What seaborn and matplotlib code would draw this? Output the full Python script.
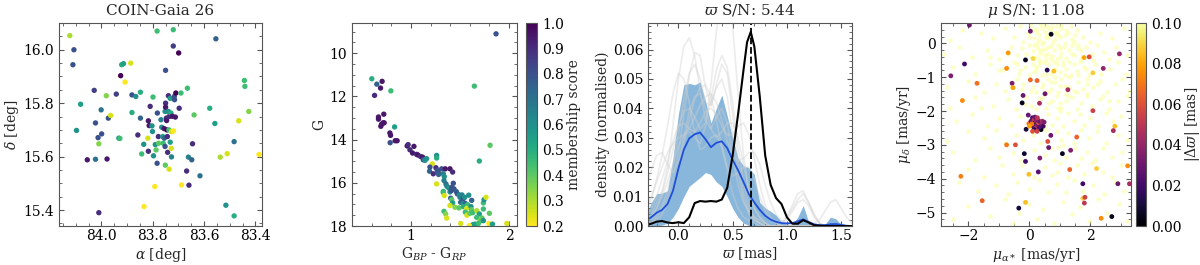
import numpy as np
import pandas as pd
import matplotlib.pyplot as plt
from matplotlib.colors import Normalize
from matplotlib.cm import ScalarMappable
from matplotlib.ticker import MultipleLocator, FormatStrFormatter
import seaborn as sns

# ---------------------------------------------------------------- data ---- #
# panel 1: sky positions of the members
ra = [84.123, 84.107, 84.111, 84.081, 84.097, 84.055, 84.023, 84.010, 84.028, 84.023,
      84.001, 84.013, 83.999, 84.010, 83.978, 83.973, 83.981, 83.964, 83.942, 83.925,
      83.921, 83.914, 83.908, 83.886, 83.881, 83.881, 83.866, 83.848, 83.848, 83.932,
      83.928, 83.858, 83.843, 83.835, 83.834, 83.819, 83.817, 83.817, 83.814, 83.810,
      83.803, 83.799, 83.801, 83.797, 83.792, 83.790, 83.787, 83.783, 83.783, 83.782,
      83.778, 83.777, 83.768, 83.765, 83.761, 83.759, 83.756, 83.752, 83.755, 83.752,
      83.751, 83.750, 83.750, 83.750, 83.747, 83.746, 83.745, 83.743, 83.742, 83.739,
      83.739, 83.737, 83.736, 83.736, 83.732, 83.732, 83.729, 83.728, 83.727, 83.727,
      83.724, 83.720, 83.720, 83.719, 83.716, 83.715, 83.712, 83.710, 83.699, 83.697,
      83.690, 83.688, 83.668, 83.665, 83.661, 83.659, 83.648, 83.645, 83.639, 83.616,
      83.578, 83.558, 83.554, 83.537, 83.510, 83.515, 83.483, 83.483, 83.465, 83.443,
      83.441, 83.426, 83.386]
dec = [16.053, 16.000, 15.944, 15.796, 15.698, 15.588, 15.590, 15.390, 15.848, 15.726,
       15.775, 15.671, 15.685, 15.648, 15.591, 15.744, 15.828, 15.754, 15.834, 15.903,
       15.944, 15.948, 15.879, 15.950, 15.831, 15.765, 15.825, 15.841, 15.744, 15.669,
       15.668, 15.681, 15.610, 15.646, 15.413, 15.669, 15.734, 15.620, 15.716, 15.788,
       15.715, 15.823, 15.694, 15.603, 15.488, 15.645, 15.625, 16.070, 15.575, 15.763,
       15.675, 15.650, 15.738, 15.710, 15.675, 15.650, 15.705, 15.769, 15.669, 15.638,
       15.568, 15.923, 15.800, 15.785, 15.744, 15.735, 15.700, 15.675, 15.616, 15.828,
       15.769, 15.700, 15.750, 15.553, 15.818, 15.654, 15.763, 15.631, 15.599, 15.694,
       15.751, 16.075, 16.014, 15.696, 15.825, 15.813, 15.748, 15.838, 15.988, 15.781,
       15.838, 15.494, 15.546, 15.856, 15.598, 15.493, 15.588, 15.648, 15.756, 15.528,
       15.781, 15.724, 16.041, 15.598, 15.611, 15.418, 15.656, 15.378, 15.734, 15.885,
       15.863, 15.769, 15.608]
mem_sky = [0.30, 0.80, 0.80, 0.55, 0.60, 0.95, 0.70, 0.90, 0.85, 0.80,
           0.70, 0.80, 0.80, 0.35, 0.95, 0.80, 0.35, 0.25, 0.85, 1.00,
           0.50, 0.55, 0.20, 0.25, 0.80, 0.50, 0.60, 0.50, 0.75, 0.60,
           0.45, 0.90, 0.45, 0.60, 0.20, 0.25, 0.95, 0.90, 0.95, 0.90,
           0.60, 0.45, 0.60, 0.60, 0.20, 0.60, 0.40, 0.45, 0.80, 0.80,
           0.90, 0.40, 0.65, 0.60, 0.55, 0.45, 0.95, 0.60, 0.75, 0.80,
           0.40, 0.80, 0.90, 0.95, 0.90, 0.95, 1.00, 0.90, 0.90, 0.90,
           0.60, 0.45, 0.90, 0.25, 0.55, 0.55, 0.50, 0.25, 0.65, 0.25,
           0.95, 0.45, 0.85, 0.20, 0.80, 0.80, 0.95, 1.00, 1.00, 0.90,
           0.45, 0.20, 0.90, 0.45, 0.65, 0.90, 0.75, 0.90, 0.40, 0.70,
           0.50, 0.55, 0.75, 0.30, 0.25, 0.60, 0.70, 0.50, 0.25, 0.45,
           0.45, 0.35, 0.20]

# panel 2: colour-magnitude diagram
bp_rp = [0.602, 0.653, 0.707, 0.691, 0.630, 0.796, 0.724, 0.670, 0.670, 0.701,
         0.717, 0.728, 0.694, 0.834, 0.786, 0.793, 0.789, 0.840, 0.860, 0.962,
         0.972, 1.031, 0.990, 1.017, 1.058, 1.071, 1.099, 1.119, 1.126, 1.143,
         1.160, 1.218, 1.262, 1.262, 1.255, 1.194, 1.190, 1.228, 1.269, 1.279,
         1.282, 1.313, 1.330, 1.340, 1.262, 1.350, 1.398, 1.425, 1.337, 1.357,
         1.367, 1.384, 1.418, 1.432, 1.330, 1.330, 1.340, 1.398, 1.411, 1.439,
         1.462, 1.473, 1.493, 1.500, 1.520, 1.534, 1.548, 1.405, 1.415, 1.425,
         1.398, 1.449, 1.507, 1.534, 1.554, 1.578, 1.589, 1.619, 1.490, 1.534,
         1.568, 1.612, 1.616, 1.337, 1.354, 1.364, 1.554, 1.571, 1.602, 1.630,
         1.670, 1.697, 1.738, 1.738, 1.745, 1.765, 1.670, 1.704, 1.724, 1.721,
         1.738, 1.799, 1.793, 1.830, 1.507, 1.630, 1.653, 1.687, 1.595, 1.977,
         1.867, 1.646, 1.806, 1.697]
gmag = [11.18, 11.43, 11.30, 11.61, 11.95, 11.74, 12.82, 12.95, 13.05, 13.29,
        13.22, 13.22, 13.38, 13.41, 13.69, 13.80, 14.14, 14.05, 14.05, 14.29,
        14.23, 14.31, 14.47, 14.62, 14.68, 14.71, 14.78, 14.81, 14.93, 14.96,
        14.88, 15.12, 14.73, 14.85, 15.30, 15.27, 15.46, 15.58, 15.43, 15.52,
        15.61, 15.35, 15.58, 15.71, 16.05, 15.35, 15.35, 15.50, 15.89, 16.05,
        16.16, 16.23, 16.20, 16.02, 16.40, 16.45, 16.59, 16.42, 16.36, 16.28,
        16.40, 16.51, 16.56, 16.67, 16.56, 16.73, 16.67, 16.71, 16.78, 16.93,
        17.05, 17.13, 16.90, 16.98, 16.95, 17.01, 16.57, 16.81, 17.16, 17.10,
        17.18, 17.10, 17.24, 17.32, 17.44, 17.63, 17.36, 17.50, 17.41, 17.38,
        17.29, 17.44, 17.21, 16.93, 16.78, 16.67, 17.60, 17.75, 17.63, 17.75,
        17.75, 17.41, 17.88, 17.91, 17.88, 17.94, 17.91, 17.88, 17.98, 17.88,
        9.10, 11.52, 14.26, 14.99]
mem_cmd = [0.50, 0.75, 0.95, 0.95, 0.90, 0.45, 0.95, 0.95, 0.95, 0.95,
           0.95, 0.95, 0.95, 0.55, 0.95, 0.95, 0.80, 0.95, 0.95, 0.95,
           0.90, 0.95, 0.90, 0.95, 0.90, 0.95, 0.90, 0.95, 0.80, 0.60,
           0.60, 0.25, 0.60, 0.50, 0.90, 0.80, 0.75, 0.90, 0.80, 0.80,
           0.75, 0.80, 0.65, 0.60, 0.25, 0.95, 0.95, 0.90, 0.65, 0.70,
           0.65, 0.60, 0.80, 0.80, 0.50, 0.45, 0.25, 0.60, 0.80, 0.80,
           0.75, 0.80, 0.60, 0.65, 0.65, 0.80, 0.60, 0.75, 0.40, 0.55,
           0.25, 0.35, 0.75, 0.55, 0.75, 0.45, 0.60, 0.75, 0.40, 0.50,
           0.25, 0.60, 0.40, 0.45, 0.35, 0.25, 0.45, 0.25, 0.40, 0.45,
           0.30, 0.55, 0.45, 0.45, 0.60, 0.25, 0.45, 0.35, 0.40, 0.40,
           0.60, 0.40, 0.20, 0.55, 0.25, 0.55, 0.55, 0.45, 0.20, 0.25,
           0.80, 0.45, 0.40, 0.50]

# panel 3: parallax densities
plx_grid = [-0.30, -0.25, -0.20, -0.15, -0.10, -0.05, 0.00, 0.05, 0.10, 0.15,
            0.20, 0.25, 0.30, 0.35, 0.40, 0.45, 0.50, 0.55, 0.60, 0.65,
            0.70, 0.75, 0.80, 0.85, 0.90, 0.95, 1.00, 1.05, 1.10, 1.15,
            1.20, 1.25, 1.30, 1.35, 1.40, 1.45, 1.50, 1.55, 1.60]
boot_curves = [
    [0.002, 0.004, 0.008, 0.012, 0.020, 0.034, 0.050, 0.061, 0.064, 0.058, 0.046, 0.036, 0.033,
     0.037, 0.040, 0.035, 0.024, 0.014, 0.008, 0.005, 0.003, 0.002, 0.001, 0, 0, 0, 0, 0, 0, 0,
     0, 0, 0, 0, 0, 0, 0, 0, 0],
    [0.000, 0.001, 0.003, 0.006, 0.010, 0.016, 0.025, 0.038, 0.051, 0.059, 0.058, 0.047, 0.041,
     0.048, 0.055, 0.052, 0.038, 0.022, 0.011, 0.005, 0.002, 0.001, 0, 0, 0, 0.001, 0.003, 0.006,
     0.009, 0.011, 0.008, 0.004, 0.001, 0, 0, 0, 0, 0, 0],
    [0.001, 0.003, 0.006, 0.010, 0.015, 0.021, 0.027, 0.031, 0.032, 0.030, 0.028, 0.034, 0.048,
     0.066, 0.080, 0.082, 0.068, 0.045, 0.024, 0.012, 0.006, 0.003, 0.001, 0, 0, 0, 0, 0, 0, 0,
     0, 0, 0, 0, 0, 0, 0, 0, 0],
    [0.004, 0.009, 0.016, 0.024, 0.034, 0.045, 0.052, 0.050, 0.042, 0.032, 0.026, 0.027, 0.030,
     0.031, 0.027, 0.019, 0.011, 0.006, 0.003, 0.002, 0.001, 0, 0, 0, 0, 0.001, 0.003, 0.007,
     0.011, 0.012, 0.008, 0.004, 0.001, 0, 0, 0, 0, 0, 0],
    [0.012, 0.019, 0.024, 0.025, 0.021, 0.018, 0.022, 0.030, 0.039, 0.044, 0.045, 0.040, 0.033,
     0.030, 0.032, 0.035, 0.035, 0.030, 0.021, 0.012, 0.006, 0.003, 0.001, 0, 0, 0, 0, 0, 0, 0,
     0, 0, 0, 0, 0, 0, 0, 0, 0],
    [0.001, 0.002, 0.004, 0.007, 0.012, 0.020, 0.031, 0.043, 0.052, 0.055, 0.050, 0.042, 0.041,
     0.047, 0.050, 0.044, 0.031, 0.018, 0.009, 0.004, 0.002, 0.001, 0, 0, 0, 0, 0, 0, 0, 0,
     0, 0.001, 0.002, 0.005, 0.008, 0.009, 0.006, 0.003, 0.001],
    [0.003, 0.006, 0.010, 0.016, 0.022, 0.029, 0.034, 0.035, 0.033, 0.032, 0.035, 0.039, 0.040,
     0.038, 0.034, 0.031, 0.031, 0.034, 0.035, 0.031, 0.023, 0.014, 0.007, 0.003, 0.001, 0, 0, 0,
     0, 0, 0, 0, 0, 0, 0, 0, 0, 0, 0],
    [0.000, 0.001, 0.002, 0.004, 0.008, 0.013, 0.020, 0.028, 0.036, 0.043, 0.047, 0.048, 0.044,
     0.036, 0.027, 0.020, 0.017, 0.018, 0.020, 0.020, 0.016, 0.010, 0.005, 0.002, 0.001, 0.001,
     0.002, 0.005, 0.008, 0.009, 0.007, 0.003, 0.001, 0, 0, 0, 0, 0, 0],
    [0.001, 0.003, 0.006, 0.011, 0.018, 0.026, 0.034, 0.039, 0.040, 0.037, 0.033, 0.035, 0.043,
     0.053, 0.058, 0.054, 0.042, 0.027, 0.015, 0.007, 0.003, 0.001, 0, 0, 0, 0, 0, 0, 0, 0,
     0, 0, 0, 0, 0, 0, 0, 0, 0],
    [0.006, 0.010, 0.015, 0.020, 0.025, 0.028, 0.030, 0.031, 0.033, 0.037, 0.041, 0.044, 0.045,
     0.042, 0.036, 0.029, 0.024, 0.022, 0.023, 0.025, 0.025, 0.021, 0.014, 0.008, 0.004, 0.002,
     0.001, 0, 0, 0, 0, 0, 0, 0, 0, 0, 0, 0, 0],
]
boot_median = [0.0018, 0.0030, 0.0045, 0.0055, 0.0075, 0.0120, 0.0195, 0.0260, 0.0298, 0.0312,
               0.0318, 0.0295, 0.0268, 0.0283, 0.0288, 0.0265, 0.0225, 0.0190, 0.0150, 0.0108,
               0.0080, 0.0055, 0.0035, 0.0022, 0.0014, 0.0010, 0.0009, 0.0010, 0.0016, 0.0023,
               0.0014, 0.0006, 0.0003, 0.0003, 0.0006, 0.0007, 0.0004, 0.0001, 0.0]
boot_upper = [0.0035, 0.0080, 0.0110, 0.0112, 0.0120, 0.0230, 0.0380, 0.0480, 0.0485, 0.0480,
              0.0490, 0.0425, 0.0350, 0.0400, 0.0445, 0.0375, 0.0300, 0.0230, 0.0205, 0.0198,
              0.0175, 0.0080, 0.0062, 0.0050, 0.0037, 0.0015, 0.0005, 0.0005, 0.0030, 0.0070,
              0.0015, 0.0005, 0.0004, 0.0005, 0.0030, 0.0025, 0.0005, 0.0, 0.0]
boot_lower = [0.0, 0.0, 0.0, 0.0003, 0.0010, 0.0030, 0.0060, 0.0100, 0.0135, 0.0150,
              0.0165, 0.0182, 0.0175, 0.0150, 0.0135, 0.0100, 0.0060, 0.0030, 0.0010, 0.0002,
              0, 0, 0, 0, 0, 0, 0, 0, 0, 0, 0, 0, 0, 0, 0, 0, 0, 0, 0]
member_plx_x = [-0.30, -0.25, -0.20, -0.15, -0.10, -0.05, 0.00, 0.05, 0.10, 0.15, 0.20, 0.25,
                0.30, 0.35, 0.40, 0.45, 0.50, 0.55, 0.60, 0.633, 0.667, 0.70, 0.75, 0.80, 0.85,
                0.90, 0.95, 1.00, 1.05, 1.10, 1.15, 1.20, 1.25, 1.30, 1.40, 1.50, 1.60]
member_plx_y = [0.0003, 0.0008, 0.0015, 0.0017, 0.0012, 0.0010, 0.0013, 0.0010, 0.0030, 0.0078,
                0.0085, 0.0083, 0.0085, 0.0083, 0.0090, 0.0130, 0.0240, 0.0380, 0.0530, 0.0625,
                0.0660, 0.0610, 0.0440, 0.0240, 0.0140, 0.0095, 0.0075, 0.0030, 0.0008, 0.0008,
                0.0020, 0.0012, 0.0003, 0.0001, 0.0, 0.0, 0.0]
plx_cluster = 0.667
plx_snr = 5.44

# panel 4: proper motions, members coloured by |d plx|, field stars behind
pmra_m = [-1.97, -2.13, -2.58, 0.03, 0.71, -0.13, 0.12, -0.70, -0.75, -1.72,
          -2.20, -0.57, -0.54, 0.58, 0.80, 0.03, 0.25, -0.21, -0.24, 0.51,
          0.33, 1.26, 1.79, 1.96, 2.42, 2.95, 2.08, 2.08, 2.80, 2.75,
          -0.04, -0.11, -0.02, 0.70, 0.60, 0.63, 0.34, -0.17, -0.13, 0.29,
          -0.02, -0.46, -0.75, 1.08, 1.35, 1.55, 1.32, 2.20, 3.22, 1.75,
          2.90, 3.28, 1.75, 1.82, 1.80, -2.25, -1.55, -0.35, -0.13, 2.35,
          2.70,
          0.05, 0.10, 0.15, 0.18, 0.22, 0.25, 0.30, 0.12, 0.20, 0.28,
          0.35, 0.40, 0.45, 0.38, 0.08, 0.15, 0.25, 0.32, 0.42, 0.00,
          0.18, 0.26, 0.48, 0.10]
pmdec_m = [0.54, -0.61, -0.96, 0.36, 0.27, -0.49, -0.45, -0.28, -0.74, -1.18,
           -1.69, -1.18, -1.31, -0.79, -0.82, -1.08, -1.10, -1.54, -1.76, -1.49,
           -1.77, -1.37, -0.42, -0.40, -0.74, -0.31, -0.87, -1.99, -2.45, -2.58,
           -2.12, -2.54, -2.37, -2.72, -2.90, -3.08, -3.39, -3.26, -3.49, -3.80,
           -3.87, -3.00, -3.00, -3.26, -3.16, -2.77, -3.73, -3.70, -3.62, -4.15,
           -4.15, -4.15, -4.58, -4.55, -4.72, -3.93, -4.65, -4.87, -4.70, -5.17,
           -5.12,
           -2.30, -2.20, -2.25, -2.35, -2.30, -2.40, -2.35, -2.45, -2.50, -2.28,
           -2.32, -2.38, -2.45, -2.55, -2.38, -2.55, -2.60, -2.48, -2.30, -2.45,
           -2.18, -2.20, -2.33, -2.60]
dplx_m = [0.030, 0.020, 0.035, 0.030, 0.005, 0.005, 0.090, 0.078, 0.075, 0.068,
          0.075, 0.035, 0.080, 0.015, 0.085, 0.066, 0.066, 0.030, 0.005, 0.030,
          0.045, 0.045, 0.080, 0.060, 0.040, 0.040, 0.088, 0.055, 0.085, 0.045,
          0.030, 0.010, 0.070, 0.030, 0.060, 0.030, 0.035, 0.008, 0.020, 0.025,
          0.085, 0.060, 0.070, 0.005, 0.035, 0.065, 0.065, 0.088, 0.075, 0.020,
          0.030, 0.045, 0.088, 0.055, 0.050, 0.072, 0.065, 0.010, 0.085, 0.075,
          0.005,
          0.030, 0.020, 0.050, 0.010, 0.040, 0.030, 0.060, 0.025, 0.045, 0.035,
          0.030, 0.040, 0.020, 0.005, 0.070, 0.015, 0.055, 0.025, 0.045, 0.080,
          0.030, 0.050, 0.035, 0.060]
pmra_field = [
    -2.6, -2.2, -1.6, -1.2, -0.8, -0.5, -0.3, -0.2, -0.05, 0.05, 0.15, 0.2, 0.3, 0.35, 0.45,
    0.5, 0.55, 0.62, 0.7, 0.78, 0.85, 0.9, 1.0, 1.05, 1.15, 1.25, 1.4, 1.55, 1.75, 2.0,
    2.3, 2.7, 3.1, 0.25, 0.4, 0.95, 0.1, 0.6,
    -2.8, -2.3, -1.9, -1.4, -1.0, -0.6, -0.4, -0.25, -0.1, 0.0, 0.1, 0.2, 0.25, 0.35, 0.42,
    0.5, 0.55, 0.62, 0.7, 0.75, 0.82, 0.9, 0.95, 1.05, 1.12, 1.2, 1.3, 1.38, 1.45, 1.6,
    1.7, 1.85, 2.05, 2.2, 2.45, 2.6, 2.85, 3.2, 0.3, 0.6, 1.0, 0.15,
    -2.5, -1.8, -1.3, -0.9, -0.5, -0.35, -0.15, 0.0, 0.1, 0.2, 0.3, 0.4, 0.48, 0.6, 0.7,
    0.9, 1.0, 1.1, 1.2, 1.35, 1.45, 1.55, 1.65, 1.8, 1.95, 2.15, 2.35, 2.65, 2.9, 3.15,
    0.85, 0.35,
    -2.7, -2.0, -1.5, -1.1, -0.8, -0.4, -0.25, 0.1, 0.2, 0.45, 0.6, 0.7, 0.85, 0.95, 1.05,
    1.15, 1.3, 1.45, 1.6, 1.75, 1.9, 2.1, 2.3, 2.55, 2.8, 3.05, 3.25, 0.5, 1.2,
    -2.6, -1.8, -1.2, -0.7, -0.45, -0.1, 0.05, 0.4, 0.55, 0.75, 0.9, 1.05, 1.2, 1.4, 1.55,
    1.7, 1.9, 2.05, 2.3, 2.6, 2.9, 3.2, 0.2, 1.0,
    -2.4, -1.9, -1.4, -1.0, -0.6, -0.3, 0.6, 0.75, 0.9, 1.1, 1.25, 1.45, 1.65, 1.8, 2.0,
    2.25, 2.5, 2.75, 3.0, 1.0, 0.5,
    -2.7, -2.0, -1.5, -1.1, -0.8, -0.45, -0.2, 0.1, 0.35, 0.9, 1.05, 1.25, 1.45, 1.7, 1.95,
    2.2, 2.5, 2.9, 3.2, 1.1, 0.55,
    -2.5, -1.8, -1.3, -1.0, -0.55, -0.3, 0.15, 0.5, 0.8, 0.95, 1.2, 1.5, 1.7, 1.9, 2.15,
    2.4, 2.7, 3.05, 0.7,
    -2.0, -1.5, -0.9, -0.55, -0.25, 0.15, 0.5, 0.75, 1.0, 1.25, 1.55, 1.8, 2.05, 2.4, 2.7,
    3.0, 0.9,
    -2.3, -1.7, -1.1, -0.7, -0.4, 0.0, 0.3, 0.6, 0.9, 1.2, 1.45, 1.75, 2.1, 2.45, 2.8, 3.1,
    -2.0, -1.3, -0.8, -0.55, -0.35, 0.0, 0.25, 0.45, 0.8, 1.1, 1.4, 1.65, 1.95, 2.25, 2.55,
    2.95, 3.2, -2.5,
    0.0, 0.3, 0.6, 0.9, 1.2, 1.5, -0.4, 0.2, 0.5, 0.8, 1.1, 1.4, 1.7, -0.2, 0.4,
    0.7, 1.0, 1.3, 1.6, 1.9,
    0.45, 0.75, 1.05, 1.35, 0.15, 0.55, 0.85, 1.15, -0.15, 0.35, 0.65, 0.95, 1.25, 1.55, 1.85,
    2.1, 2.4, -0.7, -1.0, 0.05,
    0.25, 0.55, 0.85, 1.15, 1.45, 0.05, 0.4, 0.7, 1.0, 1.3, -0.3, -0.6, 0.3, 0.65, 1.6,
    2.2, 1.9, 2.6, -1.3, -1.6]
pmdec_field = [
    0.1, 0.4, 0.3, 0.15, 0.45, 0.2, 0.5, 0.05, 0.3, 0.55, 0.15, 0.42, 0.25, 0.55, 0.05,
    0.35, 0.5, 0.15, 0.4, 0.05, 0.3, 0.52, 0.18, 0.45, 0.02, 0.3, 0.12, 0.38, 0.2, 0.05,
    0.3, 0.15, 0.45, 0.02, 0.45, 0.25, 0.38, 0.25,
    -0.3, -0.1, -0.4, -0.2, -0.45, -0.1, -0.35, -0.15, -0.3, -0.05, -0.22, -0.4, -0.1, -0.3,
    -0.02, -0.18, -0.45, -0.3, -0.08, -0.38, -0.2, -0.45, -0.05, -0.28, -0.12, -0.42, -0.2,
    -0.05, -0.35, -0.15, -0.45, -0.1, -0.3, -0.05, -0.25, -0.45, -0.1, -0.35, -0.48, -0.12,
    -0.4, -0.05,
    -0.7, -0.9, -0.6, -0.8, -0.55, -0.9, -0.7, -0.95, -0.6, -0.8, -0.65, -0.95, -0.55, -0.6,
    -0.92, -0.6, -0.85, -0.55, -0.75, -0.95, -0.6, -0.82, -0.55, -0.7, -0.95, -0.6, -0.9,
    -0.75, -0.55, -0.9, -0.98, -0.55,
    -1.3, -1.1, -1.45, -1.2, -1.4, -1.05, -1.35, -1.3, -1.45, -1.2, -1.05, -1.35, -1.15,
    -1.45, -1.05, -1.25, -1.0, -1.4, -1.15, -1.35, -1.05, -1.3, -1.1, -1.45, -1.2, -1.05,
    -1.4, -1.45, -1.5,
    -1.9, -1.6, -1.85, -1.65, -1.95, -1.6, -1.85, -1.6, -1.9, -1.7, -1.55, -1.9, -1.7,
    -1.6, -1.95, -1.75, -1.55, -1.85, -1.65, -1.95, -1.7, -1.55, -1.95, -1.75,
    -2.3, -2.1, -2.45, -2.2, -2.4, -2.15, -2.1, -2.4, -2.2, -2.45, -2.05, -2.3, -2.1, -2.4,
    -2.2, -2.45, -2.05, -2.3, -2.15, -2.0, -2.45,
    -2.9, -2.6, -2.8, -2.55, -2.95, -2.7, -2.85, -2.7, -2.95, -2.6, -2.85, -2.65, -2.95,
    -2.55, -2.8, -2.6, -2.95, -2.7, -2.85, -3.0, -2.55,
    -3.2, -3.45, -3.1, -3.35, -3.25, -3.45, -3.15, -3.3, -3.45, -3.05, -3.35, -3.1, -3.4,
    -3.2, -3.45, -3.1, -3.35, -3.2, -3.1,
    -3.7, -3.95, -3.6, -3.85, -3.6, -3.95, -3.65, -3.9, -3.55, -3.95, -3.6, -3.85, -3.55,
    -3.8, -3.95, -3.6, -3.8,
    -4.1, -4.35, -4.2, -4.45, -4.1, -4.3, -4.05, -4.4, -4.15, -4.4, -4.05, -4.35, -4.2,
    -4.45, -4.1, -4.35,
    -4.8, -5.1, -4.6, -5.3, -5.0, -4.75, -5.2, -4.9, -5.3, -4.7, -5.05, -4.85, -5.25, -4.6,
    -5.0, -4.75, -5.25, -5.2,
    0.2, 0.1, 0.45, 0.35, 0.4, 0.25, -0.6, -0.7, -0.35, -0.55, -0.65, -0.3, -0.2, -1.2, -1.3,
    -1.15, -1.25, -1.3, -0.95, -1.2,
    0.6, 0.5, 0.55, 0.5, -0.85, -0.9, -0.75, -0.95, -1.8, -1.65, -1.75, -1.9, -1.55, -1.45,
    -0.75, -0.5, -1.55, -0.3, -0.8, -1.4,
    0.35, 0.2, 0.12, 0.25, 0.05, -0.4, -0.2, -0.45, -0.15, -0.55, -0.8, -1.3, -0.2, -1.45,
    -0.05, -1.2, -1.5, -1.7, -0.4, -1.9]
pm_snr = 11.08

cluster_name = "COIN-Gaia 26"

# ---------------------------------------------------------------- style --- #
sns.set_style("ticks")
plt.rcParams['font.family'] = ['DejaVu Serif']
plt.rcParams['mathtext.fontset'] = 'dejavuserif'
plt.rcParams.update({
    'font.size': 10,
    'xtick.direction': 'in', 'ytick.direction': 'in',
    'xtick.top': True, 'ytick.right': True,
    'xtick.minor.visible': True, 'ytick.minor.visible': True,
    'xtick.major.size': 3.5, 'ytick.major.size': 3.5,
    'xtick.minor.size': 2, 'ytick.minor.size': 2,
    'xtick.major.pad': 2.0,
    'axes.edgecolor': '#555555', 'xtick.color': '#555555', 'ytick.color': '#555555',
    'xtick.labelcolor': 'black', 'ytick.labelcolor': 'black',
    'xtick.labelsize': 10, 'ytick.labelsize': 10,
    'axes.labelsize': 10, 'axes.titlesize': 11,
    'axes.labelpad': 2.0,
})

fig = plt.figure(figsize=(12, 2.65), dpi=100)
ax1 = fig.add_axes([0.0492, 0.147, 0.169, 0.766])
ax2 = fig.add_axes([0.2933, 0.147, 0.1375, 0.766])
cax2 = fig.add_axes([0.4383, 0.147, 0.0092, 0.766])
ax3 = fig.add_axes([0.540, 0.147, 0.170, 0.766])
ax4 = fig.add_axes([0.7842, 0.147, 0.1583, 0.766])
cax4 = fig.add_axes([0.9467, 0.147, 0.0083, 0.766])

mem_norm = Normalize(0.2, 1.0)
dplx_norm = Normalize(0.0, 0.1)

# 1. sky positions
df_sky = pd.DataFrame({'ra': ra, 'dec': dec, 'mem': mem_sky})
sns.scatterplot(data=df_sky, x='ra', y='dec', hue='mem', palette='viridis_r',
                hue_norm=mem_norm, s=15, linewidth=0, legend=False, ax=ax1)
ax1.set_xlim(84.165, 83.375)
ax1.set_ylim(15.34, 16.10)
ax1.xaxis.set_major_locator(MultipleLocator(0.2))
ax1.yaxis.set_major_locator(MultipleLocator(0.2))
ax1.xaxis.set_major_formatter(FormatStrFormatter('%.1f'))
ax1.yaxis.set_major_formatter(FormatStrFormatter('%.1f'))
ax1.set_xlabel(r'$\alpha$ [deg]')
ax1.set_ylabel(r'$\delta$ [deg]')
ax1.set_title(cluster_name)

# 2. CMD
df_cmd = pd.DataFrame({'bp_rp': bp_rp, 'g': gmag, 'mem': mem_cmd})
sns.scatterplot(data=df_cmd, x='bp_rp', y='g', hue='mem', palette='viridis_r',
                hue_norm=mem_norm, s=15, linewidth=0, legend=False, ax=ax2)
ax2.set_xlim(0.40, 2.08)
ax2.set_ylim(18.0, 8.6)
ax2.xaxis.set_major_locator(MultipleLocator(1))
ax2.yaxis.set_major_locator(MultipleLocator(2))
ax2.set_xlabel(r'G$_{BP}$ - G$_{RP}$')
ax2.set_ylabel('G')
cb2 = fig.colorbar(ScalarMappable(norm=mem_norm, cmap='viridis_r'), cax=cax2)
cb2.set_ticks(np.arange(0.2, 1.01, 0.1))
cb2.ax.yaxis.set_major_formatter(FormatStrFormatter('%.1f'))
cb2.ax.minorticks_off()
cb2.set_label('membership score')
cb2.outline.set_edgecolor('#555555')

# 3. parallax
for curve in boot_curves:
    sns.lineplot(x=plx_grid, y=curve, color='#d0d0d0', alpha=0.4, lw=1.2, ax=ax3)
ax3.fill_between(plx_grid, boot_lower, boot_upper, color='#3a87c4', alpha=0.6, lw=0)
sns.lineplot(x=plx_grid, y=boot_median, color='#1f4fd8', lw=1.3, ax=ax3)
sns.lineplot(x=member_plx_x, y=member_plx_y, color='black', lw=1.5, ax=ax3)
ax3.axvline(plx_cluster, color='black', ls='--', lw=1.3)
ax3.set_xlim(-0.28, 1.6)
ax3.set_ylim(0, 0.069)
ax3.xaxis.set_major_locator(MultipleLocator(0.5))
ax3.yaxis.set_major_locator(MultipleLocator(0.01))
ax3.xaxis.set_major_formatter(FormatStrFormatter('%.1f'))
ax3.yaxis.set_major_formatter(FormatStrFormatter('%.2f'))
ax3.set_xlabel(r'$\varpi$ [mas]')
ax3.set_ylabel('density (normalised)')
ax3.set_title(r'$\varpi$ S/N: ' + f'{plx_snr:.2f}')

# 4. proper motions
sns.scatterplot(x=pmra_field, y=pmdec_field, color=plt.cm.inferno(1.0), alpha=0.6,
                s=11, linewidth=0, legend=False, ax=ax4)
df_pm = pd.DataFrame({'pmra': pmra_m, 'pmdec': pmdec_m, 'dplx': dplx_m})
sns.scatterplot(data=df_pm, x='pmra', y='pmdec', hue='dplx', palette='inferno',
                hue_norm=dplx_norm, s=12, linewidth=0, legend=False, ax=ax4)
ax4.set_xlim(-2.9, 3.33)
ax4.set_ylim(-5.4, 0.6)
ax4.xaxis.set_major_locator(MultipleLocator(2))
ax4.yaxis.set_major_locator(MultipleLocator(1))
ax4.set_xlabel(r'$\mu_{\alpha *}$ [mas/yr]')
ax4.set_ylabel(r'$\mu_\delta$ [mas/yr]')
ax4.set_title(r'$\mu$ S/N: ' + f'{pm_snr:.2f}')
cb4 = fig.colorbar(ScalarMappable(norm=dplx_norm, cmap='inferno'), cax=cax4)
cb4.set_ticks(np.arange(0.0, 0.101, 0.02))
cb4.ax.yaxis.set_major_formatter(FormatStrFormatter('%.2f'))
cb4.ax.minorticks_off()
cb4.set_label(r'$|\Delta\varpi|$ [mas]', labelpad=1)
cb4.outline.set_edgecolor('#555555')

fig.savefig('out.png', dpi=100)
